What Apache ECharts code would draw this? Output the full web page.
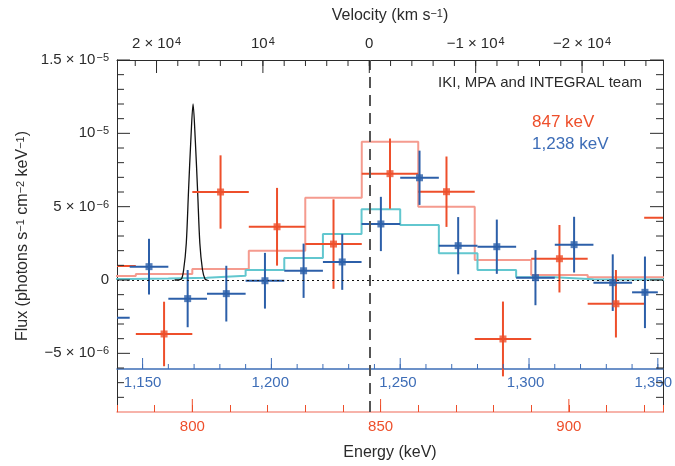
<!DOCTYPE html>
<html>
<head>
<meta charset="utf-8">
<script src="https://cdn.jsdelivr.net/npm/echarts@6/dist/echarts.min.js"></script>
<style>
  html, body { margin: 0; background: #fff; }
  #chart { width: 675px; height: 466px; }
</style>
</head>
<body>
<div id="chart"></div>
<script>
// fluxes in units of 1e-6 photons s^-1 cm^-2 keV^-1
// 847 keV line (red), energies in keV
var redEnergy = [777.5, 792.5, 807.5, 822.5, 837.5, 852.5, 867.5, 882.5, 897.5, 912.5, 927.5]
var redFlux = [0.95, -3.68, 6.0, 3.63, 2.45, 7.25, 6.02, -4.02, 1.45, -1.62, 4.25]
var redErr = [2.3, 2.2, 2.5, 2.65, 3.05, 2.4, 2.4, 2.55, 2.3, 2.3, 2.4]
var redHalfWidth = [7.5, 7.5, 7.5, 7.5, 7.5, 7.5, 7.5, 7.5, 7.5, 7.5, 7.5]

// 1,238 keV line (blue)
var blueEnergy = [1137.5, 1152.5, 1167.5, 1182.5, 1197.5, 1212.5, 1227.5, 1242.5, 1257.5, 1272.5, 1287.5, 1302.5, 1317.5, 1332.5, 1345]
var blueFlux = [-2.57, 0.91, -1.27, -0.93, -0.05, 0.63, 1.23, 3.82, 6.97, 2.34, 2.27, 0.16, 2.41, -0.18, -0.84]
var blueErr = [1.9, 1.9, 1.95, 1.9, 1.9, 1.85, 1.9, 1.85, 1.85, 1.95, 1.85, 1.88, 1.9, 1.93, 2.44]
var blueHalfWidth = [7.5, 7.5, 7.5, 7.5, 7.5, 7.5, 7.5, 7.5, 7.5, 7.5, 7.5, 7.5, 7.5, 7.5, 5]

// model histograms (bin edges + values)
var redModelEdges = [770, 785, 800, 815, 830, 845, 860, 875, 890, 905, 920, 935]
var redModel = [0.27, 0.41, 0.75, 2.0, 5.61, 9.43, 5.0, 1.36, 0.34, 0.18, 0.18]
var blueModelEdges = [1130, 1145, 1160, 1175, 1190, 1205, 1220, 1235, 1250, 1265, 1280, 1295, 1310, 1325, 1340, 1355]
var blueModel = [0.07, 0.1, 0.16, 0.29, 0.68, 1.5, 3.14, 4.82, 3.75, 1.82, 0.68, 0.18, 0.05, 0.03, 0.03]

// instrumental line profile (black)
var lineProfileEnergy = [795.3, 797.0, 797.7, 798.4, 799.0, 799.6, 800.2, 800.8, 801.4, 802.0, 802.7, 803.4, 804.0]
var lineProfileFlux = [0, 0.05, 0.7, 2.5, 6.1, 9.5, 12.0, 9.5, 6.1, 2.5, 0.7, 0.05, 0]

// ticks and tick labels
var redTicks = [800, 850, 900]
var blueTicks = [1150, 1200, 1250, 1300, 1350]
var velocityTicks = [20000, 10000, 0, -10000, -20000]
var velocityLabels = ['{b|2 × 10}{s|4}', '{b|10}{s|4}', '{b|0}', '{b|−1 × 10}{s|4}', '{b|−2 × 10}{s|4}']
var fluxTicks = [-5, 0, 5, 10, 15]
var fluxLabels = ['{b|−5 × 10}{s|−6}', '{b|0}', '{b|5 × 10}{s|−6}', '{b|10}{s|−5}', '{b|1.5 × 10}{s|−5}']

var E0 = 847
var E1 = 1238
var C = 299792
var eMin = 780
var eMax = 925
var fMin = -9
var fMax = 15

// plot box in pixels
var W = 675, H = 466
var L = 117, R = 12, T = 60, B = 54
var blueOffset = 43
var pxPerKeV = (W - L - R) / (eMax - eMin)
var pxPerFlux = (H - T - B) / (fMax - fMin)

function range(a, b, step) {
  var out = []
  for (var v = a; v <= b + 1e-9; v += step) out.push(Math.round(v * 1000) / 1000)
  return out
}

// helper grids so the label axes can start on round values
function xOfEnergy(e) { return L + (e - eMin) * pxPerKeV }
function energyOfVelocity(v) { return E0 * (1 - v / C) }
function boxX(e0, e1) { return { left: xOfEnergy(e0), right: W - xOfEnergy(e1), top: T, bottom: B } }

var font = 'Liberation Sans, Arial, Helvetica, sans-serif'
var red = '#ee4f2b'
var salmon = '#f59b8f'
var cyan = '#62c7cf'
var blue = '#2c5fa9'
var blueAxis = '#3d6db7'
var ink = '#2b2b2b'

var supRich = {
  b: { fontSize: 15, color: ink, fontFamily: font },
  s: { fontSize: 11, color: ink, fontFamily: font, verticalAlign: 'top', padding: [0, 0, 0, 1] }
}
var nameRich = {
  b: { fontSize: 16, color: ink, fontFamily: font },
  s: { fontSize: 11, color: ink, fontFamily: font, verticalAlign: 'top' }
}

function stepData(edges, values) {
  return edges.map(function (e, i) {
    return [e, values[Math.min(i, values.length - 1)]]
  })
}

function barData(xs, ys, errs, halfs) {
  return xs.map(function (x, i) {
    return [x, ys[i], x - halfs[i], x + halfs[i], ys[i] - errs[i], ys[i] + errs[i]]
  })
}

function errorBars(color) {
  return function (params, api) {
    var x = api.value(0)
    var y = api.value(1)
    var l = api.coord([api.value(2), y])
    var r = api.coord([api.value(3), y])
    var b = api.coord([x, api.value(4)])
    var t = api.coord([x, api.value(5)])
    var style = { stroke: color, lineWidth: 2 }
    return {
      type: 'group',
      children: [
        { type: 'line', shape: { x1: l[0], y1: l[1], x2: r[0], y2: r[1] }, style: style },
        { type: 'line', shape: { x1: t[0], y1: t[1], x2: b[0], y2: b[1] }, style: style }
      ]
    }
  }
}

// vertical tick marks placed through the axes' own scale
function tickSeries(xAxisIndex, rows, dy, shiftY, color) {
  return {
    type: 'custom', xAxisIndex: xAxisIndex, yAxisIndex: 0, clip: false, silent: true, z: 6,
    encode: { x: 0, y: 1 }, data: rows,
    renderItem: function (params, api) {
      var c = api.coord([api.value(0), api.value(1)])
      var y = c[1] + shiftY
      return {
        type: 'line',
        shape: { x1: c[0], y1: y, x2: c[0], y2: y + dy },
        style: { stroke: color, lineWidth: 1 }
      }
    }
  }
}

// flux ticks on both frame sides; rows are [anchor energy, flux, length px]
// (anchored inside the range, drawn at the left and right frame edges)
var fluxTickSeries = {
  type: 'custom', xAxisIndex: 0, yAxisIndex: 0, clip: false, silent: true, z: 6,
  encode: { x: 0, y: 1 },
  data: range(-8, 14, 1).map(function (f) {
    return [E0, f, fluxTicks.indexOf(f) >= 0 ? 13 : 7]
  }).concat([[E0, fMax, 13]]),
  renderItem: function (params, api) {
    var f = api.value(1)
    var len = api.value(2)
    var a = api.coord([eMin, f])
    var b = api.coord([eMax, f])
    var style = { stroke: ink, lineWidth: 1 }
    return {
      type: 'group',
      children: [
        { type: 'line', shape: { x1: a[0], y1: a[1], x2: a[0] + len, y2: a[1] }, style: style },
        { type: 'line', shape: { x1: b[0], y1: b[1], x2: b[0] - len, y2: b[1] }, style: style }
      ]
    }
  }
}

function hidden(i) { return { type: 'value', gridIndex: i, show: false } }

var tickLine = { color: ink, width: 1 }
var noSplit = { show: false }

var chart = echarts.init(document.getElementById('chart'))
var option = {
  backgroundColor: '#fff',
  animation: false,
  textStyle: { fontFamily: font },
  grid: [
    { left: L, right: R, top: T, bottom: B },
    { left: L, right: R, top: T, bottom: H - (T + (fMax + 5) * pxPerFlux) },
    boxX(800, 900),
    boxX(1150 * E0 / E1, 1350 * E0 / E1),
    boxX(energyOfVelocity(20000), energyOfVelocity(-20000))
  ],
  xAxis: [
    {
      // 0: 847 keV energy scale (data), minor ticks
      type: 'value', gridIndex: 0, position: 'bottom', min: eMin, max: eMax, interval: 10,
      axisLine: { show: true, onZero: false, lineStyle: { color: salmon, width: 1.5 } },
      axisTick: { show: true, inside: true, length: 7, lineStyle: { color: red } },
      axisLabel: { show: false },
      splitLine: noSplit,
      name: 'Energy (keV)', nameLocation: 'middle', nameGap: 33,
      nameTextStyle: { color: ink, fontSize: 16 }
    },
    {
      // 1: 1,238 keV energy scale (data)
      type: 'value', gridIndex: 0, position: 'bottom', offset: -blueOffset,
      min: eMin * E1 / E0, max: eMax * E1 / E0,
      axisLine: { show: true, onZero: false, lineStyle: { color: blueAxis, width: 1.5 } },
      axisTick: { show: false },
      axisLabel: { show: false },
      splitLine: noSplit
    },
    {
      // 2: top frame + title
      type: 'value', gridIndex: 0, position: 'top', min: 0, max: 1,
      axisLine: { show: true, onZero: false, lineStyle: tickLine },
      axisTick: { show: false },
      axisLabel: { show: false },
      splitLine: noSplit,
      name: '{b|Velocity (km s}{s|−1}{b|)}', nameLocation: 'middle', nameGap: 36,
      nameTextStyle: { rich: nameRich }
    },
    hidden(1),
    {
      // 4: 847 keV labels
      type: 'value', gridIndex: 2, position: 'bottom', min: 800, max: 900, interval: 50,
      axisLine: { show: false, onZero: false },
      axisTick: { show: false },
      axisLabel: { color: red, fontSize: 15, margin: 7, showMinLabel: true, showMaxLabel: true },
      splitLine: noSplit
    },
    {
      // 5: 1,238 keV labels
      type: 'value', gridIndex: 3, position: 'bottom', offset: -blueOffset, min: 1150, max: 1350, interval: 50,
      axisLine: { show: false, onZero: false },
      axisTick: { show: false },
      axisLabel: {
        color: blueAxis, fontSize: 15, margin: 6, showMinLabel: true, showMaxLabel: true,
        formatter: function (v) { return v.toLocaleString('en-US') }
      },
      splitLine: noSplit
    },
    {
      // 6: velocity labels
      type: 'value', gridIndex: 4, position: 'top', inverse: true, min: -20000, max: 20000, interval: 10000,
      axisLine: { show: false, onZero: false },
      axisTick: { show: false },
      axisLabel: {
        margin: 9, rich: supRich, showMinLabel: true, showMaxLabel: true,
        formatter: function (v) { return velocityLabels[velocityTicks.indexOf(v)] }
      },
      splitLine: noSplit
    }
  ],
  yAxis: [
    {
      // 0: flux (data)
      type: 'value', gridIndex: 0, position: 'left', min: fMin, max: fMax, interval: 1,
      axisLine: { show: true, onZero: false, lineStyle: tickLine },
      axisTick: { show: false },
      axisLabel: { show: false },
      splitLine: noSplit,
      name: '{b|Flux (photons s}{s|−1}{b| cm}{s|−2}{b| keV}{s|−1}{b|)}',
      nameLocation: 'middle', nameGap: 86,
      nameTextStyle: { rich: nameRich }
    },
    {
      type: 'value', gridIndex: 0, position: 'right', min: fMin, max: fMax, interval: 1,
      axisLine: { show: true, onZero: false, lineStyle: tickLine },
      axisTick: { show: false },
      axisLabel: { show: false },
      splitLine: noSplit
    },
    {
      // 2: flux labels
      type: 'value', gridIndex: 1, position: 'left', min: -5, max: fMax, interval: 5,
      axisLine: { show: false, onZero: false },
      axisTick: { show: false },
      axisLabel: {
        margin: 8, rich: supRich, showMinLabel: true, showMaxLabel: true,
        formatter: function (v) { return fluxLabels[fluxTicks.indexOf(v)] }
      },
      splitLine: noSplit
    },
    hidden(2),
    hidden(3),
    hidden(4)
  ],
  graphic: [
    {
      type: 'text', right: 33, top: 75,
      style: { text: 'IKI, MPA and INTEGRAL team', fill: ink, fontSize: 15, fontFamily: font }
    },
    {
      type: 'text', left: 532, top: 114,
      style: { text: '847 keV', fill: red, fontSize: 17, fontFamily: font }
    },
    {
      type: 'text', left: 532, top: 136,
      style: { text: '1,238 keV', fill: blueAxis, fontSize: 17, fontFamily: font }
    }
  ],
  series: [
    {
      name: 'model 847', type: 'line', step: 'end', xAxisIndex: 0, yAxisIndex: 0,
      data: stepData(redModelEdges, redModel), symbol: 'none',
      lineStyle: { color: salmon, width: 2 }, z: 2,
      markLine: {
        silent: true, symbol: 'none', label: { show: false },
        data: [
          { yAxis: 0, lineStyle: { color: '#111', type: [2, 3], width: 1.2 } },
          { xAxis: E0, lineStyle: { color: '#555', type: [11, 7], width: 2 } }
        ]
      }
    },
    {
      name: 'model 1238', type: 'line', step: 'end', xAxisIndex: 1, yAxisIndex: 0,
      data: stepData(blueModelEdges, blueModel), symbol: 'none',
      lineStyle: { color: cyan, width: 2 }, z: 2
    },
    {
      name: 'resolution', type: 'line', xAxisIndex: 0, yAxisIndex: 0, smooth: 0.3,
      data: lineProfileEnergy.map(function (e, i) { return [e, lineProfileFlux[i]] }),
      symbol: 'none', lineStyle: { color: '#111', width: 1.3 }, z: 3
    },
    {
      name: '847 bars', type: 'custom', xAxisIndex: 0, yAxisIndex: 0, clip: true,
      renderItem: errorBars(red), encode: { x: 0, y: 1 },
      data: barData(redEnergy, redFlux, redErr, redHalfWidth), z: 4
    },
    {
      name: '847 keV', type: 'scatter', xAxisIndex: 0, yAxisIndex: 0,
      symbol: 'rect', symbolSize: 7, itemStyle: { color: red },
      data: redEnergy.map(function (e, i) { return [e, redFlux[i]] }), z: 5
    },
    {
      name: '1238 bars', type: 'custom', xAxisIndex: 1, yAxisIndex: 0, clip: true,
      renderItem: errorBars(blue), encode: { x: 0, y: 1 },
      data: barData(blueEnergy, blueFlux, blueErr, blueHalfWidth), z: 4
    },
    {
      name: '1,238 keV', type: 'scatter', xAxisIndex: 1, yAxisIndex: 0,
      symbol: 'rect', symbolSize: 7, itemStyle: { color: blue },
      data: blueEnergy.map(function (e, i) { return [e, blueFlux[i]] }), z: 5
    },
    // major ticks and ticks that do not start on the axis minimum
    tickSeries(0, redTicks.map(function (e) { return [e, fMin] }), -13, 0, red),
    tickSeries(1, blueTicks.map(function (e) { return [e, fMin] }), -11, -blueOffset, blueAxis),
    tickSeries(1, range(1150, 1350, 10).map(function (e) { return [e, fMin] }), -5, -blueOffset, blueAxis),
    tickSeries(0, velocityTicks.map(function (v) { return [energyOfVelocity(v), fMax] }), 13, 0, ink),
    tickSeries(0, range(-26000, 22000, 2000).map(function (v) { return [energyOfVelocity(v), fMax] }), 6, 0, ink),
    fluxTickSeries
  ]
}
chart.setOption(option)
</script>
</body>
</html>
